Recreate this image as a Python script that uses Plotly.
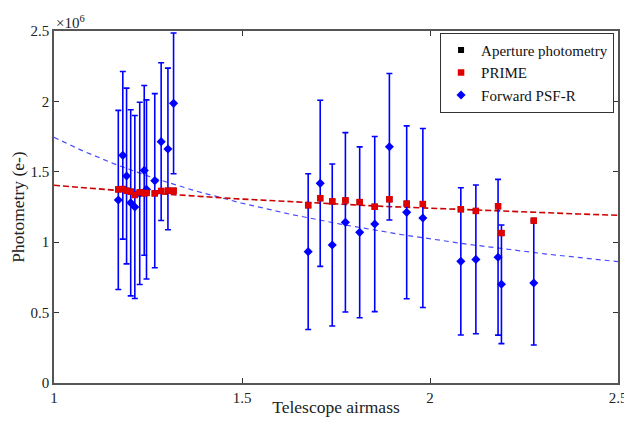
import numpy as np
import plotly.graph_objects as go

# Airmass of each observation
airmass = [1.171, 1.183, 1.193, 1.204, 1.215, 1.228, 1.240, 1.246, 1.268, 1.285, 1.303, 1.318,
           1.676, 1.708, 1.740, 1.775, 1.813, 1.853, 1.892, 1.938, 1.981,
           2.082, 2.122, 2.181, 2.190, 2.276]

# Photometry in units of 1e6 e-
aperture = [1.375, 1.378, 1.366, 1.359, 1.335, 1.354, 1.347, 1.350, 1.347, 1.364, 1.366, 1.366,
            1.262, 1.312, 1.290, 1.297, 1.285, 1.252, 1.305, 1.274, 1.271,
            1.234, 1.222, 1.255, 1.065, 1.153]
prime = [1.375, 1.378, 1.366, 1.359, 1.335, 1.354, 1.347, 1.350, 1.347, 1.364, 1.366, 1.366,
         1.262, 1.312, 1.290, 1.297, 1.285, 1.252, 1.305, 1.274, 1.271,
         1.234, 1.222, 1.255, 1.065, 1.153]
prime_err = [0.012] * 26
psfr = [1.300, 1.617, 1.470, 1.280, 1.250, 1.347, 1.510, 1.375, 1.437, 1.714, 1.662, 1.986,
        0.933, 1.418, 0.980, 1.141, 1.070, 1.129, 1.678, 1.212, 1.172,
        0.864, 0.878, 0.893, 0.701, 0.710]
psfr_err = [0.636, 0.595, 0.624, 0.661, 0.650, 0.647, 0.603, 0.636, 0.618, 0.560, 0.574, 0.500,
            0.553, 0.590, 0.575, 0.637, 0.607, 0.622, 0.520, 0.614, 0.636,
            0.523, 0.528, 0.553, 0.421, 0.440]

# Power-law fits y = a * x^b
prime_fit = (1.405, -0.18)
psfr_fit = (1.745, -0.77)

x_ticks = [1, 1.5, 2, 2.5]
x_tick_text = ["1", "1.5", "2", "2.5"]
y_ticks = [0, 0.5, 1, 1.5, 2, 2.5]
y_tick_text = ["0", "0.5", "1", "1.5", "2", "2.5"]

FONT = "Liberation Serif"
xf = np.linspace(1, 2.5, 200)

fig = go.Figure()
fig.add_trace(go.Scatter(x=xf, y=psfr_fit[0] * xf ** psfr_fit[1], mode="lines",
                         line=dict(color="#4a4aff", width=1.2, dash="5px,4px"),
                         showlegend=False, hoverinfo="skip"))
fig.add_trace(go.Scatter(x=xf, y=prime_fit[0] * xf ** prime_fit[1], mode="lines",
                         line=dict(color="#cc0000", width=1.6, dash="6px,3px"),
                         showlegend=False, hoverinfo="skip"))
fig.add_trace(go.Scatter(x=airmass, y=psfr, mode="markers", name="Forward PSF-R",
                         legendrank=3,
                         marker=dict(symbol="diamond", size=7, color="#0000ff"),
                         error_y=dict(type="data", array=psfr_err, color="#0000ff",
                                      thickness=1.6, width=3)))
fig.add_trace(go.Scatter(x=airmass, y=aperture, mode="markers", name="Aperture photometry",
                         legendrank=1,
                         marker=dict(symbol="square", size=6, color="black")))
fig.add_trace(go.Scatter(x=airmass, y=prime, mode="markers", name="PRIME",
                         legendrank=2,
                         marker=dict(symbol="square", size=6.5, color="#e00000"),
                         error_y=dict(type="data", array=prime_err, color="#e00000",
                                      thickness=1.5, width=3)))

axis_common = dict(showline=True, linecolor="#555555", linewidth=1.5, mirror="ticks",
                   ticks="inside", ticklen=5, tickcolor="#333333", showgrid=False,
                   zeroline=False, automargin=False, ticklabeloverflow="allow",
                   tickfont=dict(family=FONT, size=15, color="#222"))

# The page body adds an 8px margin on each side, so the figure is shrunk to fit the window
fig.update_layout(
    width=624, height=409,
    margin=dict(l=46, r=14, t=23, b=34, autoexpand=False),
    paper_bgcolor="white", plot_bgcolor="white",
    font=dict(family=FONT, color="#222"),
    xaxis=dict(range=[1, 2.5], tickvals=x_ticks, ticktext=x_tick_text,
               title=dict(text="Telescope airmass", font=dict(family=FONT, size=17.5), standoff=2),
               **axis_common),
    yaxis=dict(range=[0, 2.5], tickvals=y_ticks, ticktext=y_tick_text,
               title=dict(text="Photometry (e-)", font=dict(family=FONT, size=17.5), standoff=6),
               **axis_common),
    legend=dict(x=0.993, y=0.995, xanchor="right", yanchor="top",
                bgcolor="white", bordercolor="#333", borderwidth=1,
                font=dict(family=FONT, size=15, color="#111"),
                itemwidth=30, tracegroupgap=0),
    annotations=[dict(x=0, y=1, xref="paper", yref="paper", xanchor="left", yanchor="bottom",
                      text="×10<sup>6</sup>", showarrow=False,
                      font=dict(family=FONT, size=15, color="#222"), yshift=-2)],
)

fig.write_html("out.html")
